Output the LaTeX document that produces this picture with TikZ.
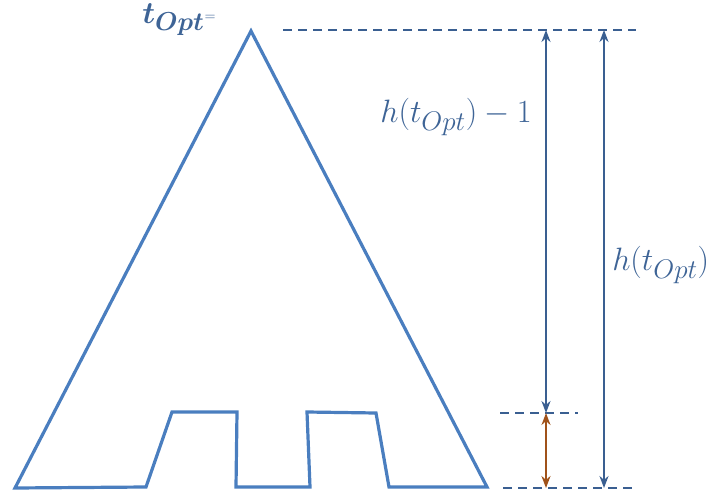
\documentclass[tikz,border=0pt]{standalone}
\usepackage{graphicx}
\usepackage{bm}
\usepackage{tikz}
\usetikzlibrary{arrows.meta,positioning}
\definecolor{shp}{HTML}{4A7EBF}
\definecolor{dim}{HTML}{3A5F91}
\definecolor{lab}{HTML}{3E6496}
\definecolor{brn}{HTML}{A0521A}
\tikzset{
  outline/.style={draw=shp, line width=3.2pt, line join=miter},
  guide/.style={draw=dim, line width=2pt, dash pattern=on 9pt off 6pt},
  span/.style={{Stealth[length=12pt,width=9pt]}-{Stealth[length=12pt,width=9pt]}, draw=dim, fill=dim, line width=2pt},
  short/.style={span, draw=brn, fill=brn},
  lbl/.style={text=lab, inner sep=0pt, font=\Huge, scale=1.3},
}
\begin{document}
\begin{tikzpicture}[x=1pt,y=-1pt]
  \useasboundingbox (0,0) rectangle (723,490);
  % tree
  \draw[outline] (251,31) -- (15,488) -- (146,487) -- (172,412) -- (237,412)
    -- (236,487) -- (310,487) -- (307,412) -- (376,413) -- (389,487)
    -- (487,487) -- cycle;
  % levels
  \coordinate (t1) at (283,30);  \coordinate (t2) at (636,30);
  \coordinate (m1) at (500,413); \coordinate (m2) at (578,413);
  \coordinate (b1) at (503,488); \coordinate (b2) at (637,488);
  \draw[guide] (t1) -- (t2);
  \draw[guide] (m1) -- (m2);
  \draw[guide] (b1) -- (b2);
  % spans
  \coordinate (at) at (546,30);  \coordinate (am) at (546,413);
  \coordinate (ab) at (546,488);
  \coordinate (rt) at (604,30);  \coordinate (rb) at (604,488);
  \draw[span] (at) -- (am);
  \draw[short] (am) -- (ab);
  \draw[span] (rt) -- (rb);
  % labels
  \node[lbl] (hless) at (456,117) {$h\bigl(t_{Opt}\bigr)-1$};
  \node[lbl, anchor=west] (hfull) at (612,265) {$h\bigl(t_{Opt}\bigr)$};
  \node[text=lab, inner sep=0pt, anchor=west, font=\Huge, scale=1.25] (root) at (142,20)
    {$\bm{t_{Opt}}$};
  \node[text=lab, inner sep=0pt] (eq) at (210,18) {\resizebox{11pt}{!}{$=$}};
\end{tikzpicture}
\end{document}
